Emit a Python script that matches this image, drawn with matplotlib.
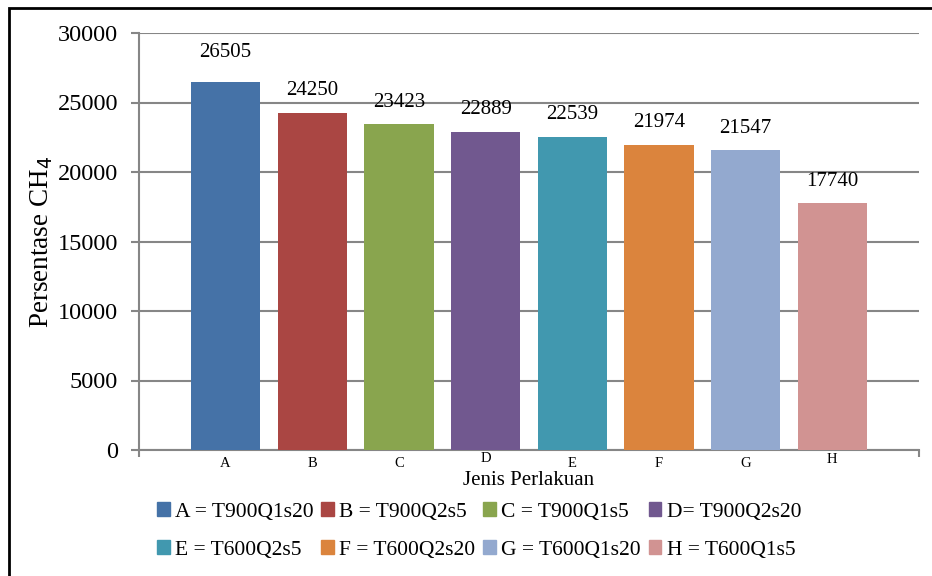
import matplotlib.pyplot as plt
from matplotlib.patches import Rectangle
from matplotlib.ticker import FixedLocator
from matplotlib.transforms import ScaledTranslation

plt.rcParams['font.family'] = ['Liberation Serif', 'DejaVu Serif']

# Data
categories = ['A', 'B', 'C', 'D', 'E', 'F', 'G', 'H']
values = [26505, 24250, 23423, 22889, 22539, 21974, 21547, 17740]
legend_labels = ['A = T900Q1s20', 'B = T900Q2s5', 'C = T900Q1s5', 'D= T900Q2s20',
                 'E = T600Q2s5', 'F = T600Q2s20', 'G = T600Q1s20', 'H = T600Q1s5']
colors = ['#4572A7', '#AA4643', '#89A54E', '#71588F',
          '#4198AF', '#DB843D', '#93A9CF', '#D19392']

W, H = 932, 576
fig = plt.figure(figsize=(W / 100, H / 100), dpi=100)

# outer frame (cut off at right/bottom like the scan)
fig.patches.append(Rectangle((9 / W, -0.1), 1.2, 1 - 8 / H + 0.1,
                             transform=fig.transFigure, fill=False,
                             edgecolor='black', lw=2))

ax = fig.add_axes([139 / W, 1 - 450 / H, (919 - 139) / W, (450 - 33) / H])
x = list(range(len(categories)))
bars = ax.bar(x, values, width=0.8, color=colors, zorder=3)
for i, (b, v) in enumerate(zip(bars, values)):
    ax.annotate(str(v), (b.get_x() + b.get_width() / 2, v),
                xytext=(0, 14 if i == 0 else 9), textcoords='offset points',
                ha='center', va='bottom', fontsize=15)

ax.set_xlim(-1, 8)
ax.set_ylim(0, 30000)
ax.set_yticks(range(0, 30001, 5000))
ax.tick_params(axis='y', labelsize=17.5, length=6, width=1.5, color='#868686', pad=9)
ax.yaxis.grid(True, color='#868686', lw=1.5, zorder=0)
ax.set_axisbelow(True)

ax.set_xticks(x)
ax.set_xticklabels(categories, fontsize=10.5)
ax.tick_params(axis='x', length=0, pad=5)
ax.xaxis.set_minor_locator(FixedLocator([-1, 8]))
ax.tick_params(axis='x', which='minor', length=5, width=1.5, color='#868686')
# the source has a few labels nudged upwards
shifts = [0, 0, 0, 5, 0, 0, 0, 4]
for lab, s in zip(ax.get_xticklabels(), shifts):
    lab.set_transform(lab.get_transform() + ScaledTranslation(0, s / 100, fig.dpi_scale_trans))

for s in ['top', 'right']:
    ax.spines[s].set_visible(False)
for s in ['left', 'bottom']:
    ax.spines[s].set_color('#868686')
    ax.spines[s].set_linewidth(1.5)

ax.set_ylabel('Persentase CH$_4$', fontsize=19.5, labelpad=2)
ax.set_xlabel('Jenis Perlakuan', fontsize=15, labelpad=1)

# legend filled row by row
order = [0, 4, 1, 5, 2, 6, 3, 7]
handles = [Rectangle((0, 0), 1, 1, color=colors[i]) for i in order]
fig.legend(handles, [legend_labels[i] for i in order], ncol=4, loc='center',
           bbox_to_anchor=(479 / W, 1 - 531 / H), fontsize=15.5, frameon=False,
           handlelength=0.6, handleheight=0.6, handletextpad=0.25,
           columnspacing=0.35, labelspacing=0.85)

fig.savefig('out.png', dpi=100)
